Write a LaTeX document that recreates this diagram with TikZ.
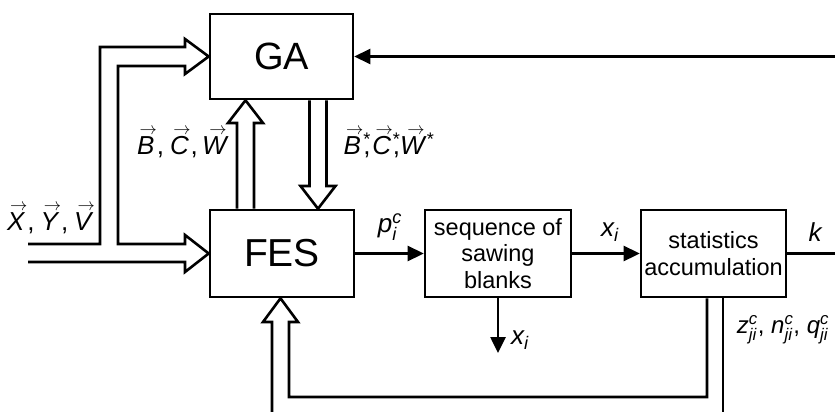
\documentclass[tikz,border=0pt]{standalone}
\usepackage{amsmath}
\usepackage{fontspec}
\setmainfont{Liberation Sans}
\usetikzlibrary{arrows.meta,calc}
\newcommand\ti[1]{\text{\itshape #1}}
\newcommand\va[1]{\vbox{\offinterlineskip\halign{\hfil##\hfil\cr\kern5pt$\scriptstyle\rightarrow$\cr\noalign{\kern2.5pt}\textit{#1}\cr}}}
\newcommand\st{\rlap{$^{\text{*}}$}}
\begin{document}
\begin{tikzpicture}[x=1pt,y=-1pt,
  thick line/.style={line width=2.6pt},
  box/.style={draw,line width=2.6pt,rectangle,inner sep=0pt,align=center,font=\fontsize{23.5}{26.5}\selectfont},
  lbl/.style={inner sep=0pt,font=\fontsize{26}{30}\selectfont},
  flow/.style={line width=2.6pt,-{Triangle[length=16pt,width=15pt]}},
  hollow/.style={line width=2.6pt,line join=miter}]
\useasboundingbox (0,0) rectangle (835,412);
\node[box,minimum width=143pt,minimum height=85pt,font=\fontsize{38}{42}\selectfont] (GA) at (281.5,56.5) {GA};
\node[box,minimum width=144pt,minimum height=87pt,font=\fontsize{39}{42}\selectfont] (FES) at (282,253.5) {FES};
\node[box,minimum width=146pt,minimum height=87pt] (SEQ) at (498,253.5) {sequence of\\sawing\\blanks};
\node[box,minimum width=145pt,minimum height=87pt] (ST) at (713.5,253.5) {statistics\\accumulation};
% input double arrows to GA and FES
\draw[hollow] (28,244) -- (100,244) -- (100,47) -- (185,47) -- (185,39) -- (GA.west) -- (185,74) -- (185,66) -- (118,66) -- (118,244) -- (185,244) -- (185,235) -- (FES.west) -- (185,272) -- (185,262) -- (28,262);
% FES -> GA hollow
\draw[hollow] (FES.north -| 237,0) -- (237,123) -- (228,123) -- (GA.south -| 245.5,0) -- (263,123) -- (254,123) -- (FES.north -| 254,0);
% GA -> FES hollow
\draw[hollow] (GA.south -| 309.5,0) -- (309.5,186) -- (300.5,186) -- (FES.north -| 318,0) -- (335.5,186) -- (326.5,186) -- (GA.south -| 326.5,0);
% feedback from statistics to FES
\draw[hollow] (272,412) -- (272,322) -- (263,322) -- (FES.south -| 280.5,0) -- (298,322) -- (289,322) -- (289,397) -- (707,397) -- (ST.south -| 707,0);
\draw[thick line] (ST.south -| 723,0) -- (723,412);
% top feedback
\coordinate (RT) at (835,56.5);
\draw[flow] (RT) -- (GA.east);
% flow arrows
\draw[flow] (FES.east) -- (SEQ.west);
\draw[flow] (SEQ.east) -- (ST.west);
\coordinate (RO) at (835,253.5);
\draw[thick line] (ST.east) -- (RO);
\coordinate (XD) at (498,353);
\draw[flow] (SEQ.south) -- (XD);
% labels
\node[lbl,anchor=east] (l1) at (229,143) {\va{B},\,\va{C},\,\va{W}};
\node[lbl,anchor=west] (l2) at (341,143) {\va{B}\st,\va{C}\st,\va{W}$^{\text{*}}$};
\node[lbl] (l3) at (50,219) {\va{X},\,\va{Y},\,\va{V}};
\node[lbl] (l4) at (390,227) {$\ti{p}_{\ti{i}}^{\ti{c}}$};
\node[lbl] (l5) at (610,232) {$\ti{x}_{\ti{i}}$};
\node[lbl] (l6) at (815,232) {$\ti{k}$};
\node[lbl] (l7) at (520,340) {$\ti{x}_{\ti{i}}$};
\node[lbl,font=\fontsize{24}{28}\selectfont] (l8) at (783,330) {$\ti{z}_{\ti{ji}}^{\ti{c}}$, $\ti{n}_{\ti{ji}}^{\ti{c}}$, $\ti{q}_{\ti{ji}}^{\ti{c}}$};
\end{tikzpicture}
\end{document}
